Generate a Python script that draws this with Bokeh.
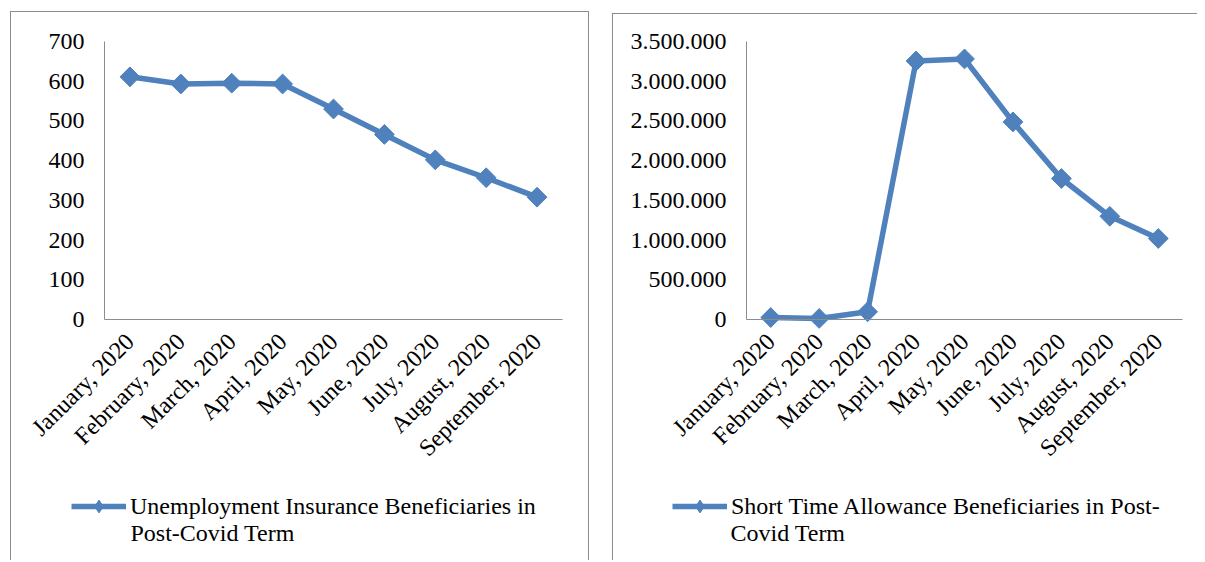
from bokeh.plotting import figure
from bokeh.models import (Range1d, FixedTicker, Legend, LegendItem, Label, LinearAxis,
                          ColumnDataSource)
from bokeh.layouts import row, column
from bokeh.embed import file_html
from bokeh.resources import INLINE
import math

months = ["January, 2020", "February, 2020", "March, 2020", "April, 2020", "May, 2020",
          "June, 2020", "July, 2020", "August, 2020", "September, 2020"]
unemployment = [611, 593, 595, 593, 530, 466, 402, 357, 308]
short_time = [25000, 13000, 97000, 3255000, 3281000, 2488000, 1775000, 1299000, 1020000]
left_ticks = [0, 100, 200, 300, 400, 500, 600, 700]
right_ticks = [0, 500000, 1000000, 1500000, 2000000, 2500000, 3000000, 3500000]
left_label = ["Unemployment Insurance Beneficiaries in", "Post-Covid Term"]
right_label = ["Short Time Allowance Beneficiaries in Post-", "Covid Term"]

BLUE = "#4F81BD"
FONT = "Liberation Serif"
FS = "24px"
GRAY = "#8c8c8c"


def panel(values, ticks, ymax, label_lines, width, height, ax_left, ax_width, ax_top, ax_h,
          leg_x, second_x, overrides=None):
    # month positions on a numeric axis: category i sits at i + 0.5
    xs = [i + 0.5 for i in range(len(months))]
    n = len(months)
    ppu_x = ax_width / n
    ppu_y = ax_h / ymax
    x0 = -ax_left / ppu_x
    x1 = (width - ax_left) / ppu_x
    y1 = ymax + ax_top / ppu_y
    y0 = -(height - ax_top - ax_h) / ppu_y
    p = figure(width=width, height=height, output_backend="svg", toolbar_location=None,
               x_range=Range1d(x0, x1), y_range=Range1d(y0, y1),
               x_axis_type=None, y_axis_type=None, min_border=0)
    p.outline_line_color = None
    p.xgrid.grid_line_color = None
    p.ygrid.grid_line_color = None

    xax = LinearAxis(fixed_location=0, bounds=(0, n),
                     ticker=FixedTicker(ticks=xs),
                     major_label_overrides={x: m for x, m in zip(xs, months)})
    yax = LinearAxis(fixed_location=0, bounds=(0, ymax), ticker=FixedTicker(ticks=ticks))
    if overrides:
        yax.major_label_overrides = overrides
    for ax in (xax, yax):
        ax.axis_line_color = GRAY
        ax.axis_line_width = 1
        ax.major_tick_line_color = None
        ax.minor_tick_line_color = None
        ax.major_tick_out = 0
        ax.major_tick_in = 0
        ax.major_label_text_font = FONT
        ax.major_label_text_font_size = FS
        ax.major_label_text_color = "#000000"
    yax.major_label_standoff = 20
    xax.major_label_orientation = math.pi / 4
    xax.major_label_standoff = 18
    p.add_layout(xax, "below")
    p.add_layout(yax, "left")

    src = ColumnDataSource(dict(x=xs, y=values, month=months))
    ln = p.line("x", "y", source=src, line_color=BLUE, line_width=5.5)
    # narrow diamond (legend key) sits hidden under the square-diamond markers
    dm = p.scatter("x", "y", source=src, marker="diamond", size=12,
                   fill_color=BLUE, line_color=BLUE)
    p.scatter("x", "y", source=src, marker="square", angle=math.pi / 4, size=14,
              fill_color=BLUE, line_color=BLUE)
    leg = Legend(items=[LegendItem(label=label_lines[0], renderers=[ln, dm])],
                 location=(leg_x, 38), label_text_font=FONT, label_text_font_size=FS,
                 label_text_color="#000000", glyph_width=55, glyph_height=32,
                 label_standoff=4, border_line_color=None, background_fill_alpha=0,
                 padding=0, margin=0, spacing=0)
    p.add_layout(leg, "center")
    p.add_layout(Label(x=second_x, y=28, x_units="screen", y_units="screen",
                       text=label_lines[1], text_font=FONT, text_font_size=FS,
                       text_color="#000000", text_baseline="alphabetic"))
    return p


left_p = panel(unemployment, left_ticks, 700, left_label, 577, 548, 93, 458, 29, 278, 60, 119)
left = column(left_p, margin=(11, 0, 0, 10),
              styles={"border-top": f"1px solid {GRAY}", "border-left": f"1px solid {GRAY}",
                      "border-right": f"1px solid {GRAY}"})

right_over = {t: f"{t:,}".replace(",", ".") for t in right_ticks}
right_p = panel(short_time, right_ticks, 3500000, right_label, 584, 546, 133, 436, 27, 278,
                59, 117, right_over)
right = column(right_p, margin=(13, 0, 0, 23),
               styles={"border-top": f"1px solid {GRAY}", "border-left": f"1px solid {GRAY}"})

layout = row(left, right)
open("out.html", "w").write(file_html(layout, INLINE))
